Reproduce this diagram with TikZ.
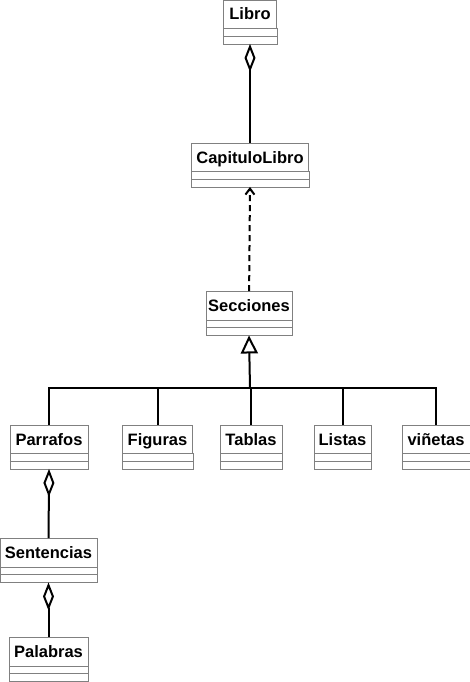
\documentclass[tikz,border=0pt]{standalone}
\usepackage{fontspec}
\setmainfont{Liberation Sans}
\usetikzlibrary{arrows.meta}

\begin{document}
\begin{tikzpicture}[x=1pt, y=1pt, >=Stealth,
	   font=\fontsize{16.5}{18}\selectfont\bfseries,
	   c/.style={draw=black!50, fill=white, inner sep=0pt, minimum height=28.5pt, text height=12pt, text depth=0pt},
	   l/.style={line width=2pt},
	   agr/.style={l, {Diamond[open, length=28pt, width=11pt]}-},
	   dep/.style={l, dash pattern=on 6pt off 4pt, -{Straight Barb[length=6pt, width=9pt]}},
	   gen/.style={l, -{Triangle[open, length=18pt, width=17pt]}}]
	  \useasboundingbox (0,0) rectangle (470,-682);
	  \node[c, minimum width=53pt] (libro) at (250,-14) {Libro};
	  \node[c, minimum width=117pt] (capitulo) at (250,-157) {CapituloLibro};
	  \node[c, minimum width=86pt] (secciones) at (249,-305.5) {Secciones};
	  \node[c, minimum width=78pt] (parrafos) at (49,-439) {Parrafos};
	  \node[c, minimum width=70pt] (figuras) at (157.5,-439) {Figuras};
	  \node[c, minimum width=62pt] (tablas) at (251,-439) {Tablas};
	  \node[c, minimum width=57pt] (listas) at (342.5,-439) {Listas};
	  \node[c, minimum width=68pt] (vinetas) at (436,-439) {viñetas};
	  \node[c, minimum width=97pt] (sentencias) at (48.5,-552.5) {Sentencias};
	  \node[c, minimum width=79pt] (palabras) at (48.5,-651.5) {Palabras};
	  % two empty compartments under each name
	  \foreach \n in {libro,capitulo,secciones,parrafos,figuras,tablas,listas,vinetas,sentencias,palabras} {
	    \draw[draw=black!50] (\n.south west) -- ++(0,-15.5) -| (\n.south east);
	    \draw[draw=black!50] ([yshift=-7.5pt]\n.south west) -- ([yshift=-7.5pt]\n.south east);
	    \coordinate (\n-b) at ([yshift=-15.5pt]\n.south);
	  }
	  \coordinate (bus) at (250,-388);
	  \draw[agr] (libro-b) -- (capitulo);
	  \draw[dep] (secciones) -- (capitulo-b);
	  \draw[gen] (bus) -- (secciones-b);
	  \foreach \n in {parrafos,figuras,tablas,listas,vinetas} \draw[l] (\n) |- (bus);
	  \draw[agr] (parrafos-b) -- (sentencias);
	  \draw[agr] (sentencias-b) -- (palabras);
	\end{tikzpicture}
\end{document}
